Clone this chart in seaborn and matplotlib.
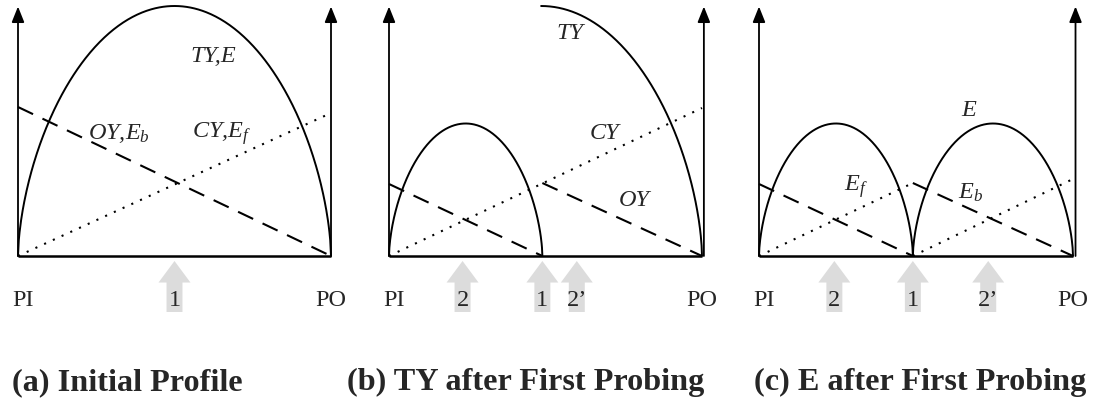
import numpy as np
import pandas as pd
import matplotlib
matplotlib.use("Agg")
import matplotlib.pyplot as plt
from matplotlib.patches import FancyArrowPatch, ArrowStyle
import seaborn as sns

sns.set_theme(style="white")
plt.rcParams["font.family"] = ["Liberation Serif", "DejaVu Serif"]
plt.rcParams["mathtext.fontset"] = "custom"
plt.rcParams["mathtext.rm"] = "Liberation Serif"
plt.rcParams["mathtext.it"] = "Liberation Serif:italic"

# ---- profile data (x: 0 = PI, 1 = PO; y: relative yield) ----
# arcs: (center, half width, peak, drawn from, drawn to)
arcs_a = [(0.50, 0.50, 1.00, 0.00, 1.00)]
arcs_b = [(0.245, 0.245, 0.53, 0.00, 0.49), (0.486, 0.514, 1.00, 0.486, 1.00)]
arcs_c = [(0.245, 0.245, 0.53, 0.00, 0.49), (0.745, 0.255, 0.53, 0.49, 1.00)]

# straight segments: (x start, y start, x end, y end)
dashed_a = [(0.0, 0.596, 1.0, 0.0)]
dashed_b = [(0.0, 0.288, 0.49, 0.0), (0.49, 0.292, 1.0, 0.0)]
dashed_c = [(0.0, 0.288, 0.49, 0.0), (0.49, 0.292, 1.0, 0.0)]

dotted_a = [(0.0, 0.0, 1.0, 0.572)]
dotted_b = [(0.0, 0.0, 1.0, 0.592)]
dotted_c = [(0.0, 0.0, 0.49, 0.292), (0.49, 0.0, 1.0, 0.308)]

# probing points marked below the axis
probe_labels_a = ["1"]
probe_x_a = [0.50]
probe_labels_b = ["2", "1", "2\u2019"]
probe_x_b = [0.235, 0.49, 0.60]
probe_labels_c = ["2", "1", "2\u2019"]
probe_x_c = [0.24, 0.49, 0.73]

# curve labels: (text, x, y)
curve_labels_a = [("TY,E", 0.552, 0.80), ("OY,$E_b$", 0.225, 0.49), ("CY,$E_f$", 0.555, 0.49)]
curve_labels_b = [("TY", 0.535, 0.89), ("CY", 0.64, 0.49), ("OY", 0.735, 0.224)]
curve_labels_c = [("E", 0.645, 0.584), ("$E_f$", 0.27, 0.276), ("$E_b$", 0.635, 0.252)]

end_labels = ["PI", "PO"]
end_x = [0.015, 1.0]

titles = ["(a) Initial Profile", "(b) TY after First Probing", "(c) E after First Probing"]

panels = [
    dict(arcs=arcs_a, dashed=dashed_a, dotted=dotted_a, probes=(probe_labels_a, probe_x_a),
         labels=curve_labels_a, axis_x=(0.0, 1.0), px=(18, 331), span=(0, 365), title_x=12),
    dict(arcs=arcs_b, dashed=dashed_b, dotted=dotted_b, probes=(probe_labels_b, probe_x_b),
         labels=curve_labels_b, axis_x=(0.0, 1.006), px=(389, 702), span=(365, 730), title_x=347),
    dict(arcs=arcs_c, dashed=dashed_c, dotted=dotted_c, probes=(probe_labels_c, probe_x_c),
         labels=curve_labels_c, axis_x=(0.0, 1.008), px=(759, 1073), span=(730, 1096), title_x=754),
]

W, H = 1096, 400
BASE_PX, TOP_PX = 256, 6
fig = plt.figure(figsize=(W / 100, H / 100), dpi=100)

SHAPE = 0.6   # rounding of the yield arcs
LABEL_SIZE = 17.5


def arc_frame(c, hw, peak, x_from, x_to):
    x = np.linspace(x_from, x_to, 400)
    u = np.clip((x - c) / hw, -1, 1)
    y = peak * np.power(1 - u ** 2, SHAPE)
    return pd.DataFrame({"x": x, "y": y})


def seg_frame(x0, y0, x1, y1):
    return pd.DataFrame({"x": [x0, x1], "y": [y0, y1]})


for p in panels:
    L, R = p["span"]
    x0p, x1p = p["px"]
    wpx = x1p - x0p
    ax = fig.add_axes([L / W, 0, (R - L) / W, 1])
    ax.set_xlim((L - x0p) / wpx, (R - x0p) / wpx)
    ax.set_ylim((BASE_PX - H) / (BASE_PX - TOP_PX), BASE_PX / (BASE_PX - TOP_PX))
    ax.set_axis_off()

    for arc in p["arcs"]:
        sns.lineplot(data=arc_frame(*arc), x="x", y="y", ax=ax, color="black",
                     linewidth=1.4, estimator=None, sort=False)
    for seg in p["dashed"]:
        sns.lineplot(data=seg_frame(*seg), x="x", y="y", ax=ax, color="black",
                     linewidth=1.5, linestyle=(0, (8, 5)), estimator=None, sort=False)
    for seg in p["dotted"]:
        sns.lineplot(data=seg_frame(*seg), x="x", y="y", ax=ax, color="black",
                     linewidth=1.5, linestyle=(0, (1, 3.6)), estimator=None, sort=False)

    # baseline
    ax.plot([0, 1.0], [0, 0], color="black", linewidth=1.8, solid_capstyle="butt")

    # vertical axes with arrowheads
    for xa in p["axis_x"]:
        ax.add_patch(FancyArrowPatch((xa, 0), (xa, 0.998),
                                     arrowstyle=ArrowStyle("-|>", head_length=9.5, head_width=3.8),
                                     mutation_scale=1, color="black", linewidth=1.3,
                                     shrinkA=0, shrinkB=0))

    # probing markers
    for lab, xp in zip(*p["probes"]):
        ax.add_patch(FancyArrowPatch((xp, -0.224), (xp, -0.02),
                                     arrowstyle=ArrowStyle("simple", head_length=15.5,
                                                           head_width=23, tail_width=11.5),
                                     mutation_scale=1, facecolor="#dcdcdc", edgecolor="none",
                                     shrinkA=0, shrinkB=0, zorder=1))
        ax.text(xp, -0.176, lab, ha="center", va="center", fontsize=LABEL_SIZE, zorder=3)

    for lab, xe in zip(end_labels, end_x):
        ax.text(xe, -0.176, lab, ha="center", va="center", fontsize=LABEL_SIZE)

    for txt, xl, yl in p["labels"]:
        ax.text(xl, yl, txt, ha="left", va="center", fontsize=LABEL_SIZE, fontstyle="italic")

for p, t in zip(panels, titles):
    fig.text(p["title_x"] / W, (H - 390) / H, t, ha="left", va="baseline",
             fontsize=23.2, fontweight="bold")

fig.savefig("out.png", dpi=100)
